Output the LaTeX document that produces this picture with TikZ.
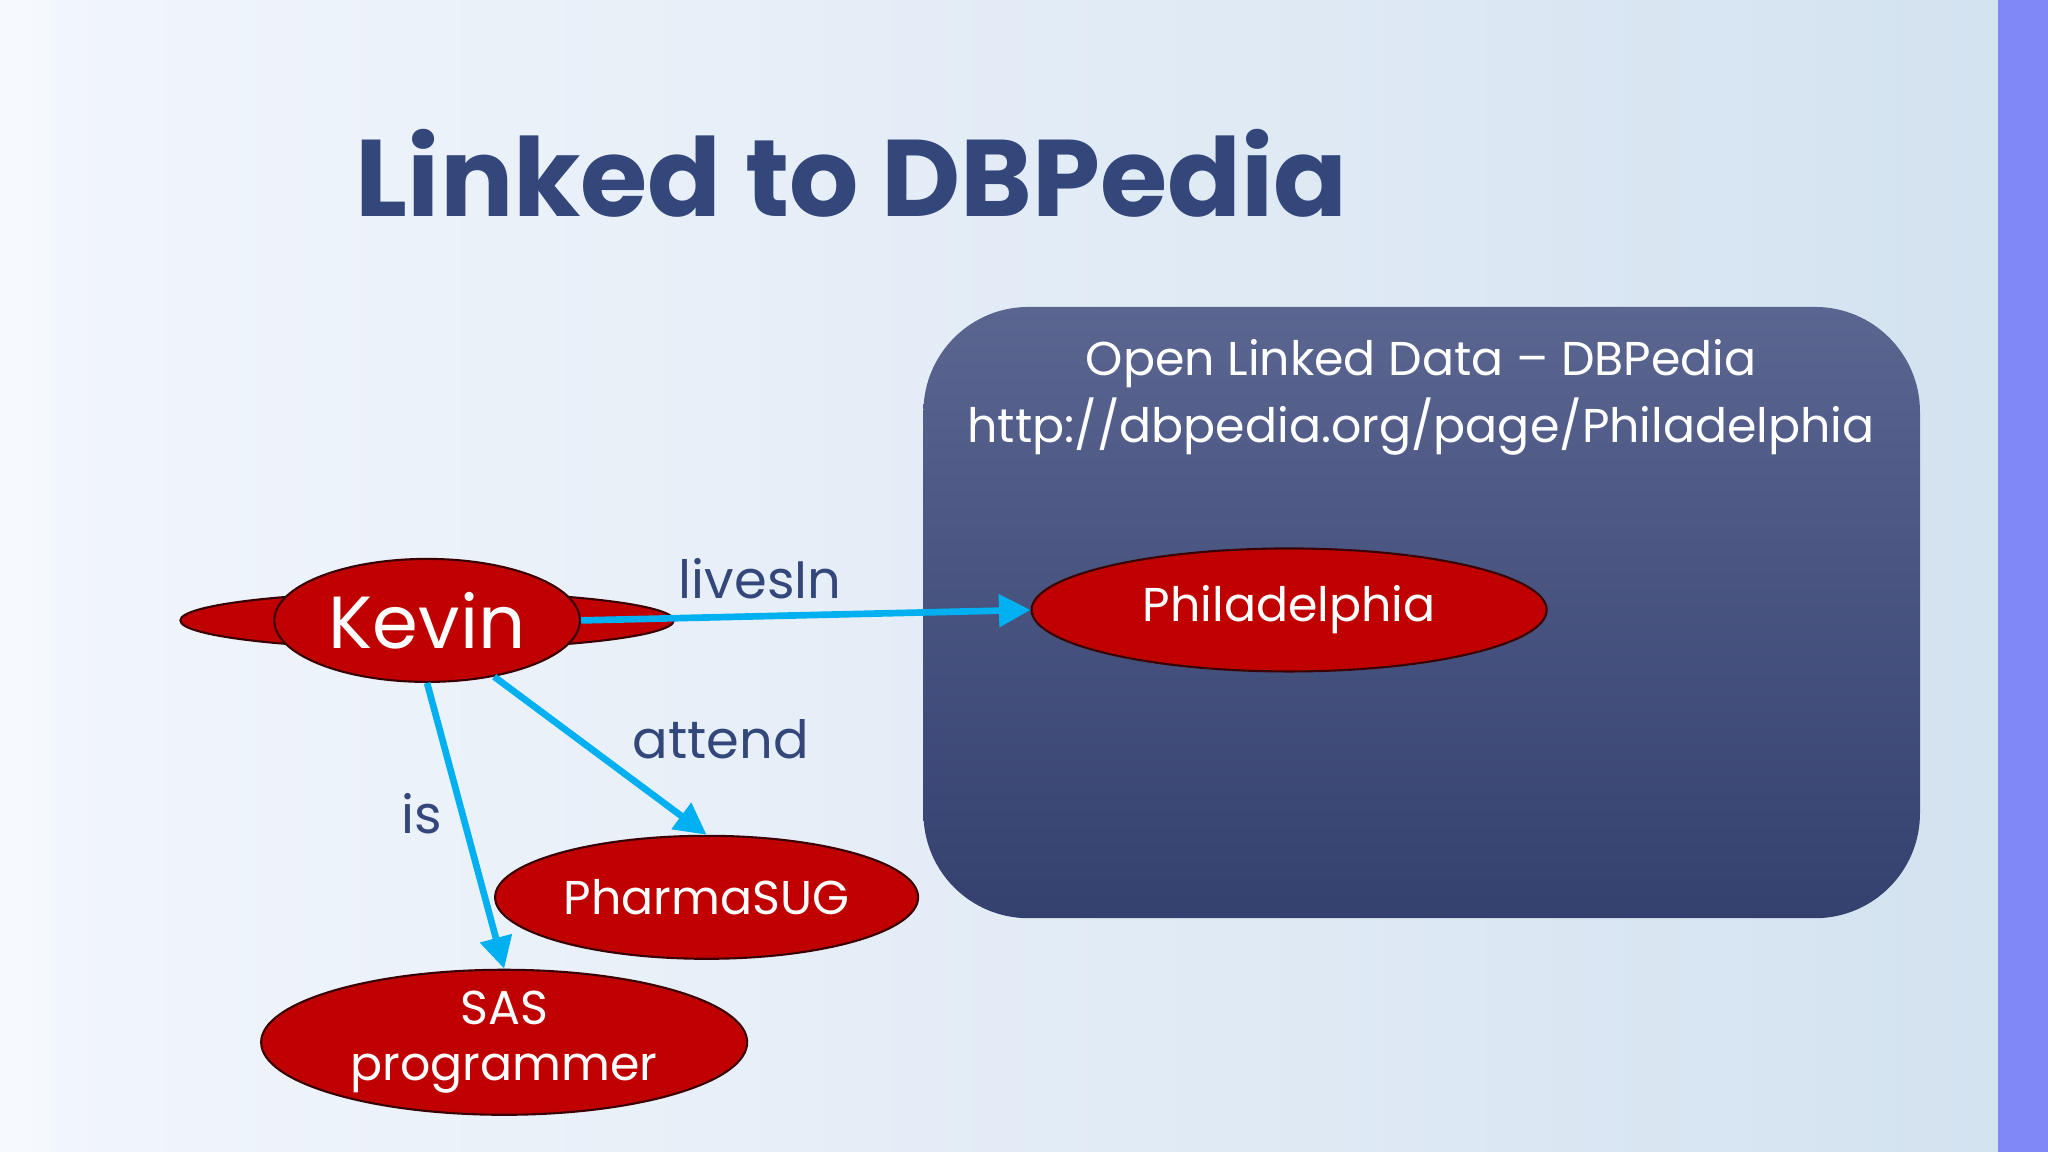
\documentclass[tikz,border=0pt]{standalone}
\usepackage{fontspec}
\setmainfont{Poppins}
\usetikzlibrary{shapes.geometric,arrows.meta}
\definecolor{bgA}{HTML}{F2F6FC}
\definecolor{bgB}{HTML}{D3E2F0}
\definecolor{titleblue}{HTML}{33477A}
\definecolor{boxtop}{HTML}{5A6590}
\definecolor{boxbot}{HTML}{34406E}
\definecolor{nodered}{HTML}{C00000}
\definecolor{arrowcyan}{HTML}{00B0F0}
\begin{document}
\begin{tikzpicture}[x=0.01306cm,y=-0.01306cm,
  ell/.style={ellipse,fill=nodered,draw=black!70!nodered,line width=0.6pt,text=white,inner sep=0pt,font=\fontsize{13.5}{16}\selectfont,align=center},
  arr/.style={arrowcyan,line width=1.9pt,-{Triangle[length=9pt,width=9pt]}},
  lab/.style={text=titleblue,font=\fontsize{15}{18}\selectfont}]
\useasboundingbox (0,0) rectangle (1568,882);
\shade[left color=bgA,right color=bgB] (0,0) rectangle (1568,882);
\fill[white,opacity=0.35] (0,0) rectangle (38,882);
\fill[blue!40!bgB] (1530,0) rectangle (1568,882);
\node[anchor=base west,inner sep=0pt,text=titleblue,font=\fontsize{31}{36}\bfseries\selectfont] (title) at (272,166) {Linked to DBPedia};
\shade[top color=boxtop,bottom color=boxbot,rounded corners=1.05cm] (707,235) rectangle (1470,703);
\node[text=white,align=center,font=\fontsize{13.5}{19}\selectfont] (boxtxt) at (1088,304) {Open Linked Data – DBPedia\\http://dbpedia.org/page/Philadelphia};
\node[ell,minimum width=234\pgflinewidth,font=\fontsize{21}{24}\selectfont] (kevin) at (327,475) {\phantom{x}};
\node[ell,minimum width=3.056cm,minimum height=1.23cm,font=\fontsize{21}{24}\selectfont] (kevin) at (327,475) {Kevin};
\node[ell,minimum width=5.15cm,minimum height=1.23cm] (phil) at (987,467) {Philadelphia};
\node[ell,minimum width=4.23cm,minimum height=1.23cm] (pharma) at (541,687) {PharmaSUG};
\node[ell,minimum width=4.86cm,minimum height=1.23cm] (sas) at (386,798) {SAS\\programmer};
\draw[arr] (kevin.east) -- (phil.west);
\draw[arr] (kevin.-40) -- (pharma.north);
\draw[arr] (kevin.south) -- (sas.north);
\node[lab] (l1) at (582,443) {livesIn};
\node[lab] (l2) at (552,566) {attend};
\node[lab] (l3) at (323,623) {is};
\end{tikzpicture}
\end{document}
